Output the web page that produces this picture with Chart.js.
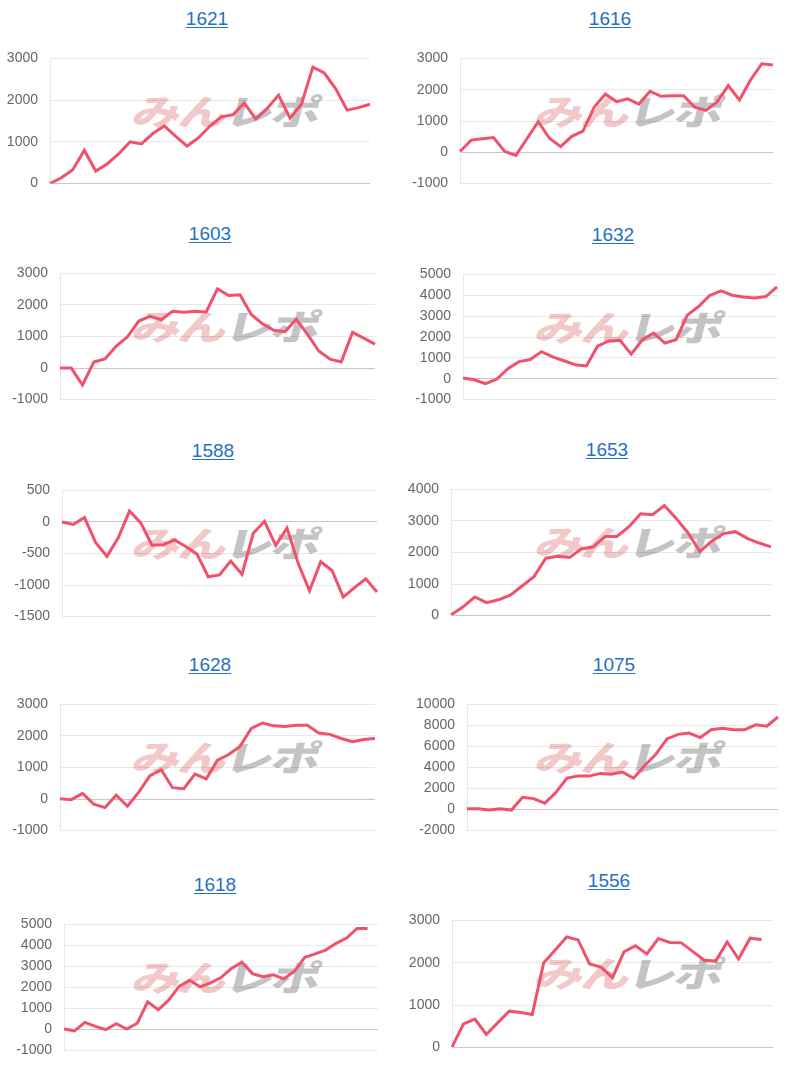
<!DOCTYPE html>
<html>
<head>
<meta charset="utf-8">
<script src="https://cdn.jsdelivr.net/npm/chart.js@4/dist/chart.umd.min.js"></script>
<style>
  html, body { margin: 0; padding: 0; background: #fff; }
  body { width: 800px; height: 1080px; position: relative; overflow: hidden; font-family: "Liberation Sans", Arial, sans-serif; }
  .title { position: absolute; transform: translateX(-50%); font-size: 19px; line-height: 22px; white-space: nowrap; }
  .title a { color: #2470c4; text-decoration: underline; text-underline-offset: 2px; }
  .wm { position: absolute; height: 36px; width: 170px; white-space: nowrap; font-family: "Noto Sans CJK JP", sans-serif; font-weight: 900; font-size: 40px; line-height: 36px; transform-origin: 0 50%; transform: skewX(-14deg) scale(1.22, 0.88); letter-spacing: -2px; z-index: 0; }
  .wm .p { color: rgba(222, 95, 100, 0.36); }
  .wm .g { color: rgba(110, 110, 110, 0.42); margin-left: 0px; }
  canvas { position: absolute; z-index: 1; }
</style>
</head>
<body>
<script>
// ---- data ----
const titles = ['1621', '1616', '1603', '1632', '1588', '1653', '1628', '1075', '1618', '1556'];

const days28 = ['1','2','3','4','5','6','7','8','9','10','11','12','13','14','15','16','17','18','19','20','21','22','23','24','25','26','27','28'];
const days29 = ['1','2','3','4','5','6','7','8','9','10','11','12','13','14','15','16','17','18','19','20','21','22','23','24','25','26','27','28','29'];
const days31 = ['1','2','3','4','5','6','7','8','9','10','11','12','13','14','15','16','17','18','19','20','21','22','23','24','25','26','27','28','29','30','31'];

const v1621 = [0, 140, 330, 800, 300, 470, 710, 1000, 950, 1200, 1380, 1130, 900, 1100, 1380, 1600, 1650, 1930, 1550, 1800, 2120, 1570, 1900, 2790, 2650, 2270, 1760, 1820, 1900];
const v1616 = [25, 390, 430, 470, 25, -100, 440, 980, 450, 180, 510, 680, 1440, 1860, 1620, 1710, 1540, 1950, 1790, 1810, 1810, 1440, 1340, 1610, 2130, 1670, 2320, 2830, 2790];
const v1603 = [0, 0, -540, 190, 290, 700, 990, 1490, 1640, 1530, 1800, 1770, 1800, 1780, 2510, 2300, 2320, 1700, 1400, 1200, 1150, 1550, 1070, 540, 280, 190, 1130, 950, 760];
const v1632 = [40, -50, -240, -25, 480, 820, 920, 1300, 1050, 860, 670, 610, 1560, 1810, 1840, 1180, 1870, 2190, 1710, 1870, 3050, 3460, 3990, 4210, 4000, 3920, 3870, 3940, 4400];
const v1588 = [0, -40, 70, -330, -545, -250, 175, -15, -370, -360, -285, -390, -510, -870, -840, -620, -830, -180, 10, -370, -95, -660, -1090, -630, -770, -1190, -1040, -900, -1110];
const v1653 = [20, 270, 590, 410, 500, 650, 940, 1230, 1820, 1880, 1840, 2110, 2180, 2510, 2510, 2810, 3230, 3200, 3490, 3080, 2620, 2030, 2360, 2600, 2660, 2450, 2300, 2180];
const v1628 = [10, -20, 180, -160, -270, 120, -230, 220, 740, 930, 360, 330, 790, 640, 1230, 1410, 1670, 2240, 2410, 2320, 2300, 2340, 2340, 2090, 2050, 1920, 1820, 1890, 1920];
const v1075 = [80, 80, -50, 80, -50, 1160, 1040, 610, 1620, 3000, 3180, 3180, 3440, 3360, 3560, 2980, 4190, 5250, 6720, 7150, 7280, 6850, 7600, 7730, 7600, 7600, 8060, 7930, 8820];
const v1618 = [25, -60, 340, 150, 0, 280, 25, 300, 1320, 940, 1400, 2050, 2340, 2030, 2220, 2470, 2910, 3200, 2660, 2510, 2600, 2410, 2760, 3430, 3600, 3780, 4100, 4350, 4810, 4810];
const v1556 = [10, 560, 670, 310, 590, 860, 830, 780, 2000, 2300, 2610, 2540, 1970, 1900, 1650, 2260, 2400, 2210, 2570, 2480, 2470, 2270, 2060, 2040, 2490, 2090, 2580, 2550];

const labelSets = [days29, days29, days29, days29, days29, days28, days29, days29, days31, days29];
const valueSets = [v1621, v1616, v1603, v1632, v1588, v1653, v1628, v1075, v1618, v1556];

// y-axis tick ranges
const yMin  = [0, -1000, -1000, -1000, -1500, 0, -1000, -2000, -1000, 0];
const yMax  = [3000, 3000, 3000, 5000, 500, 4000, 3000, 10000, 5000, 3000];
const yStep = [1000, 1000, 1000, 1000, 500, 1000, 1000, 2000, 1000, 1000];

// ---- layout (plot area boxes, px) ----
const plotLeft   = [50, 460, 60, 463, 62, 451, 60, 467, 64, 452];
const plotRight  = [370, 773, 375, 777, 377, 771, 375, 778, 378, 773];
const plotTop    = [42, 42, 257, 258, 474, 473, 688, 688, 908, 904];
const plotBottom = [200, 200, 416, 416, 633, 632, 847, 847, 1067, 1064];
const titleX     = [207, 610, 210, 613, 213, 607, 210, 614, 215, 609];

const AXIS_W = 56, PAD_T = 4, PAD_B = 4, PAD_R = 2;

Chart.defaults.font.family = '"Liberation Sans", Arial, sans-serif';
Chart.defaults.font.size = 14;
Chart.defaults.color = '#666';

titles.forEach((t, i) => {
  const title = document.createElement('div');
  title.className = 'title';
  title.style.left = titleX[i] + 'px';
  title.style.top = (plotTop[i] - 34) + 'px';
  const a = document.createElement('a');
  a.href = '#';
  a.textContent = t;
  title.appendChild(a);
  document.body.appendChild(title);

  const wm = document.createElement('div');
  wm.className = 'wm';
  wm.style.left = (i % 2 === 0 ? 134 : 537) + 'px';
  wm.style.top = (plotTop[i] + 50) + 'px';
  wm.innerHTML = '<span class="p">みん</span><span class="g">レポ</span>';
  document.body.appendChild(wm);

  const cv = document.createElement('canvas');
  const left = plotLeft[i] - AXIS_W;
  const w = plotRight[i] - left + PAD_R;
  const h = plotBottom[i] - plotTop[i] + PAD_T + PAD_B;
  cv.width = w; cv.height = h;
  cv.style.left = left + 'px';
  cv.style.top = (plotTop[i] - PAD_T) + 'px';
  cv.style.width = w + 'px';
  cv.style.height = h + 'px';
  document.body.appendChild(cv);

  new Chart(cv, {
    type: 'line',
    data: {
      labels: labelSets[i],
      datasets: [{
        data: valueSets[i],
        borderColor: 'rgb(240, 82, 108)',
        backgroundColor: 'rgb(240, 82, 108)',
        borderWidth: 3,
        pointRadius: 0,
        pointHoverRadius: 0,
        tension: 0,
        fill: false
      }]
    },
    options: {
      responsive: false,
      animation: false,
      devicePixelRatio: 1,
      layout: { padding: { top: PAD_T, bottom: PAD_B, right: PAD_R, left: 0 } },
      plugins: { legend: { display: false }, tooltip: { enabled: false }, title: { display: false } },
      scales: {
        x: { display: false },
        y: {
          min: yMin[i], max: yMax[i],
          ticks: { stepSize: yStep[i], padding: 12, color: '#666', font: { size: 14 }, callback: (v) => String(v) },
          grid: {
            drawTicks: false,
            color: (c) => (c.tick && c.tick.value === 0) ? 'rgba(0,0,0,0.22)' : 'rgba(0,0,0,0.09)',
            lineWidth: 1
          },
          border: { display: true, color: 'rgba(0,0,0,0.09)' },
          afterFit: (scale) => { scale.width = AXIS_W; }
        }
      }
    }
  });
});
</script>
</body>
</html>
